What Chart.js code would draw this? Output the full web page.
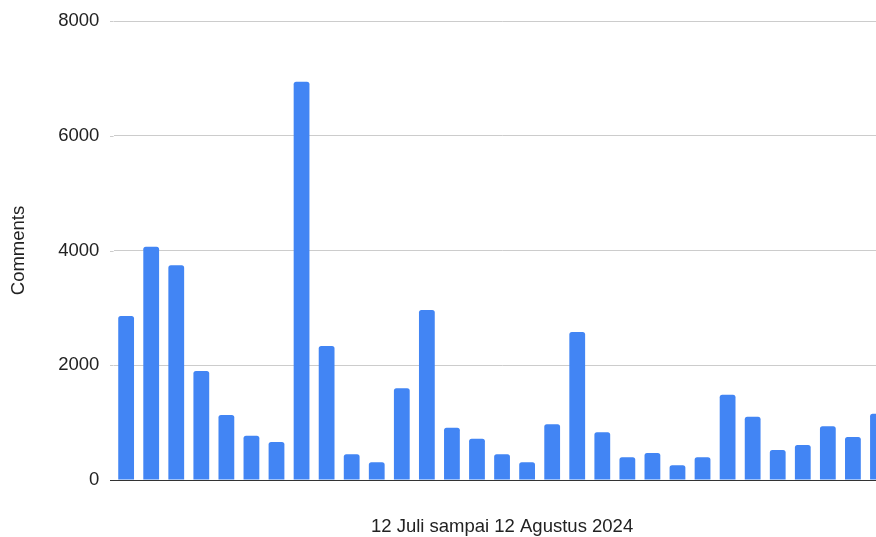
<!DOCTYPE html>
<html>
<head>
<meta charset="utf-8">
<title>Comments per hari</title>
<script src="https://cdn.jsdelivr.net/npm/chart.js@4/dist/chart.umd.min.js"></script>
<style>
  html, body { margin: 0; padding: 0; background: #ffffff; }
  #wrap { width: 876px; height: 537px; overflow: hidden; position: relative; }
  canvas { display: block; }
</style>
</head>
<body>
<div id="wrap"><canvas id="chart" width="900" height="537"></canvas></div>
<script>
// Daily comment counts, 12 Juli – 11 Agustus 2024
const days = [
  '12 Jul', '13 Jul', '14 Jul', '15 Jul', '16 Jul', '17 Jul', '18 Jul', '19 Jul',
  '20 Jul', '21 Jul', '22 Jul', '23 Jul', '24 Jul', '25 Jul', '26 Jul', '27 Jul',
  '28 Jul', '29 Jul', '30 Jul', '31 Jul', '1 Agu', '2 Agu', '3 Agu', '4 Agu',
  '5 Agu', '6 Agu', '7 Agu', '8 Agu', '9 Agu', '10 Agu', '11 Agu'
];
const comments = [
  2860, 4065, 3745, 1900, 1135, 772, 662, 6940,
  2335, 448, 308, 1598, 2963, 912, 720, 448,
  308, 971, 2580, 831, 395, 470, 256, 395,
  1487, 1104, 523, 610, 936, 749, 1156
];
const yTicks = [0, 2000, 4000, 6000, 8000];

const xTitle = '12 Juli sampai 12 Agustus 2024';
const yTitle = 'Comments';

const FONT = "Arial, 'Liberation Sans', sans-serif";
const TEXT = '#222222';
const GRID = '#cccccc';
const BASE = '#333333';
const GRID_START = 110; // gridlines begin a little left of the first category

// Extends the horizontal gridlines and the baseline a few pixels to the left
const gridLead = {
  id: 'gridLead',
  beforeDatasetsDraw(chart) {
    const { ctx, chartArea, scales: { y } } = chart;
    ctx.save();
    ctx.lineWidth = 1;
    yTicks.forEach(v => {
      const py = Math.round(y.getPixelForValue(v)) + 0.5;
      ctx.strokeStyle = v === 0 ? BASE : GRID;
      ctx.beginPath();
      ctx.moveTo(GRID_START, py);
      ctx.lineTo(chartArea.left, py);
      ctx.stroke();
    });
    ctx.restore();
  }
};

new Chart(document.getElementById('chart'), {
  type: 'bar',
  data: {
    labels: days,
    datasets: [{
      label: yTitle,
      data: comments,
      backgroundColor: '#4285F4',
      borderWidth: 0,
      borderRadius: 2.5,
      categoryPercentage: 1,
      barPercentage: 0.63
    }]
  },
  options: {
    responsive: false,
    animation: false,
    events: [],
    layout: { padding: { top: 21, right: 9.5, bottom: 0, left: 0 } },
    plugins: {
      legend: { display: false },
      tooltip: { enabled: false }
    },
    scales: {
      x: {
        type: 'category',
        offset: true,
        grid: { display: false, drawTicks: false },
        border: { display: true, color: BASE, width: 1 },
        ticks: { display: false },
        title: {
          display: true,
          text: xTitle,
          color: TEXT,
          font: { family: FONT, size: 18.5, lineHeight: 1 },
          padding: { top: 0, bottom: 0.85 }
        },
        afterFit: s => { s.height = 57; }
      },
      y: {
        min: 0,
        max: 8000,
        afterBuildTicks: s => { s.ticks = yTicks.map(v => ({ value: v })); },
        grid: { color: GRID, lineWidth: 1, drawTicks: false },
        border: { display: false },
        ticks: {
          color: TEXT,
          padding: 14.2,
          font: { family: FONT, size: 18.5 },
          callback: v => String(v)
        },
        title: {
          display: true,
          text: yTitle,
          color: TEXT,
          font: { family: FONT, size: 18.5, lineHeight: 1 },
          padding: { top: 9.35, bottom: 0 }
        },
        afterFit: s => {
          s.width = 113.6;
          s.paddingTop = 0;
          s.paddingBottom = 0;
        }
      }
    }
  },
  plugins: [gridLead]
});
</script>
</body>
</html>
